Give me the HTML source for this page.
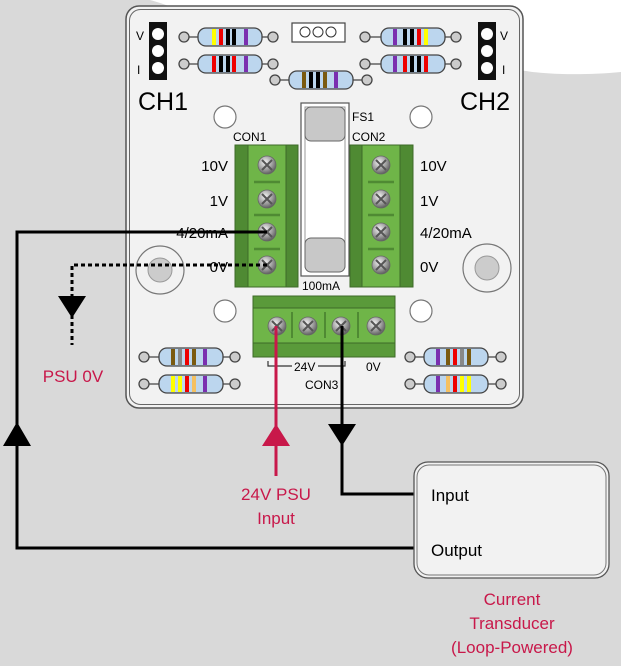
<!DOCTYPE html>
<html><head><meta charset="utf-8"><style>
html,body{margin:0;padding:0;background:#d9d9d9;}
svg{display:block;}
text{font-family:"Liberation Sans",sans-serif;}
</style></head><body>
<svg width="621" height="666" viewBox="0 0 621 666" xmlns="http://www.w3.org/2000/svg">
<defs>
<radialGradient id="sc" cx="0.4" cy="0.35" r="0.7">
<stop offset="0" stop-color="#f4f4f4"/><stop offset="0.6" stop-color="#9a9a9a"/><stop offset="1" stop-color="#555"/>
</radialGradient>
<g id="screw"><circle r="9" fill="url(#sc)" stroke="#666" stroke-width="0.8"/>
<path d="M-5,-5 L5,5 M5,-5 L-5,5" stroke="#555" stroke-width="2"/></g>
</defs>
<rect width="621" height="666" fill="#d9d9d9"/>
<path d="M150,0 L621,0 L621,72 C580,76 540,74 520,70 L200,20 C180,10 165,4 150,0 Z" fill="#ffffff"/>
<!-- board -->
<rect x="126" y="6" width="397" height="402" rx="13" fill="#f2f2f2" stroke="#555" stroke-width="1.5"/>
<rect x="129.5" y="9.5" width="390" height="395" rx="11" fill="none" stroke="#666" stroke-width="1"/>
<!-- headers -->
<rect x="149" y="22" width="18" height="58" fill="#111"/>
<circle cx="158" cy="34" r="6" fill="#fff"/><circle cx="158" cy="51" r="6" fill="#fff"/><circle cx="158" cy="68" r="6" fill="#fff"/>
<rect x="478" y="22" width="18" height="58" fill="#111"/>
<circle cx="487" cy="34" r="6" fill="#fff"/><circle cx="487" cy="51" r="6" fill="#fff"/><circle cx="487" cy="68" r="6" fill="#fff"/>
<text x="136" y="40" font-size="12" font-family="Liberation Serif,serif">V</text>
<text x="137" y="74" font-size="12" font-family="Liberation Serif,serif">I</text>
<text x="500" y="40" font-size="12" font-family="Liberation Serif,serif">V</text>
<text x="502" y="74" font-size="12" font-family="Liberation Serif,serif">I</text>
<text x="138" y="110" font-size="25">CH1</text>
<text x="460" y="110" font-size="25">CH2</text>
<!-- resistors -->
<g stroke="#444" stroke-width="1.3">
<g id="r1"><line x1="184" y1="37" x2="273" y2="37"/><circle cx="184" cy="37" r="5" fill="#ccc"/><circle cx="273" cy="37" r="5" fill="#ccc"/><rect x="198" y="28" width="64" height="18" rx="8" fill="#bcd6ee"/></g>
<line x1="184" y1="64" x2="273" y2="64"/><circle cx="184" cy="64" r="5" fill="#ccc"/><circle cx="273" cy="64" r="5" fill="#ccc"/><rect x="198" y="55" width="64" height="18" rx="8" fill="#bcd6ee"/>
<line x1="275" y1="80" x2="367" y2="80"/><circle cx="275" cy="80" r="5" fill="#ccc"/><circle cx="367" cy="80" r="5" fill="#ccc"/><rect x="289" y="71" width="64" height="18" rx="8" fill="#bcd6ee"/>
<line x1="365" y1="37" x2="456" y2="37"/><circle cx="365" cy="37" r="5" fill="#ccc"/><circle cx="456" cy="37" r="5" fill="#ccc"/><rect x="381" y="28" width="64" height="18" rx="8" fill="#bcd6ee"/>
<line x1="365" y1="64" x2="456" y2="64"/><circle cx="365" cy="64" r="5" fill="#ccc"/><circle cx="456" cy="64" r="5" fill="#ccc"/><rect x="381" y="55" width="64" height="18" rx="8" fill="#bcd6ee"/>
<line x1="144" y1="357" x2="235" y2="357"/><circle cx="144" cy="357" r="5" fill="#ccc"/><circle cx="235" cy="357" r="5" fill="#ccc"/><rect x="159" y="348" width="64" height="18" rx="8" fill="#bcd6ee"/>
<line x1="144" y1="384" x2="235" y2="384"/><circle cx="144" cy="384" r="5" fill="#ccc"/><circle cx="235" cy="384" r="5" fill="#ccc"/><rect x="159" y="375" width="64" height="18" rx="8" fill="#bcd6ee"/>
<line x1="410" y1="357" x2="501" y2="357"/><circle cx="410" cy="357" r="5" fill="#ccc"/><circle cx="501" cy="357" r="5" fill="#ccc"/><rect x="424" y="348" width="64" height="18" rx="8" fill="#bcd6ee"/>
<line x1="410" y1="384" x2="501" y2="384"/><circle cx="410" cy="384" r="5" fill="#ccc"/><circle cx="501" cy="384" r="5" fill="#ccc"/><rect x="424" y="375" width="64" height="18" rx="8" fill="#bcd6ee"/>
</g>
<!-- bands -->
<g>
<rect x="212" y="29" width="4" height="16" fill="#ff0"/><rect x="219" y="29" width="4" height="16" fill="#e00"/><rect x="226" y="29" width="4" height="16" fill="#000"/><rect x="232" y="29" width="4" height="16" fill="#000"/><rect x="244" y="29" width="4" height="16" fill="#7a2fb0"/>
<rect x="212" y="56" width="4" height="16" fill="#e00"/><rect x="219" y="56" width="4" height="16" fill="#000"/><rect x="226" y="56" width="4" height="16" fill="#000"/><rect x="232" y="56" width="4" height="16" fill="#e00"/><rect x="244" y="56" width="4" height="16" fill="#7a2fb0"/>
<rect x="302" y="72" width="4" height="16" fill="#7a5a10"/><rect x="309" y="72" width="4" height="16" fill="#000"/><rect x="316" y="72" width="4" height="16" fill="#000"/><rect x="323" y="72" width="4" height="16" fill="#7a5a10"/><rect x="334" y="72" width="4" height="16" fill="#7a2fb0"/>
<rect x="393" y="29" width="4" height="16" fill="#7a2fb0"/><rect x="403" y="29" width="4" height="16" fill="#000"/><rect x="410" y="29" width="4" height="16" fill="#000"/><rect x="417" y="29" width="4" height="16" fill="#e00"/><rect x="424" y="29" width="4" height="16" fill="#ff0"/>
<rect x="393" y="56" width="4" height="16" fill="#7a2fb0"/><rect x="403" y="56" width="4" height="16" fill="#e00"/><rect x="410" y="56" width="4" height="16" fill="#000"/><rect x="417" y="56" width="4" height="16" fill="#000"/><rect x="424" y="56" width="4" height="16" fill="#e00"/>
<rect x="171" y="349" width="4" height="16" fill="#7a5a10"/><rect x="178" y="349" width="4" height="16" fill="#888"/><rect x="185" y="349" width="4" height="16" fill="#e00"/><rect x="192" y="349" width="4" height="16" fill="#7a5a10"/><rect x="203" y="349" width="4" height="16" fill="#7a2fb0"/>
<rect x="171" y="376" width="4" height="16" fill="#ff0"/><rect x="178" y="376" width="4" height="16" fill="#ff0"/><rect x="185" y="376" width="4" height="16" fill="#e00"/><rect x="192" y="376" width="4" height="16" fill="#f5c060"/><rect x="203" y="376" width="4" height="16" fill="#7a2fb0"/>
<rect x="436" y="349" width="4" height="16" fill="#7a2fb0"/><rect x="446" y="349" width="4" height="16" fill="#7a5a10"/><rect x="453" y="349" width="4" height="16" fill="#e00"/><rect x="460" y="349" width="4" height="16" fill="#888"/><rect x="467" y="349" width="4" height="16" fill="#7a5a10"/>
<rect x="436" y="376" width="4" height="16" fill="#7a2fb0"/><rect x="446" y="376" width="4" height="16" fill="#f5c060"/><rect x="453" y="376" width="4" height="16" fill="#e00"/><rect x="460" y="376" width="4" height="16" fill="#ff0"/><rect x="467" y="376" width="4" height="16" fill="#ff0"/>
</g>
<!-- OOO connector -->
<rect x="292" y="23" width="53" height="19" fill="#fff" stroke="#444" stroke-width="1.2"/>
<circle cx="305" cy="32" r="5" fill="none" stroke="#333"/><circle cx="318" cy="32" r="5" fill="none" stroke="#333"/><circle cx="331" cy="32" r="5" fill="none" stroke="#333"/>
<!-- holes -->
<g fill="#fff" stroke="#777" stroke-width="1.2">
<circle cx="225" cy="117" r="11"/><circle cx="421" cy="117" r="11"/><circle cx="225" cy="311" r="11"/><circle cx="421" cy="311" r="11"/>
<circle cx="160" cy="270" r="24" fill="#f2f2f2"/><circle cx="487" cy="268" r="24" fill="#f2f2f2"/>
</g>
<circle cx="160" cy="270" r="12" fill="#ccc" stroke="#999"/><circle cx="487" cy="268" r="12" fill="#ccc" stroke="#999"/>
<!-- fuse -->
<rect x="301" y="103" width="48" height="173" fill="#fff" stroke="#555" stroke-width="1.2"/>
<rect x="305" y="107" width="40" height="160" fill="#fff" stroke="#999"/>
<rect x="305" y="107" width="40" height="34" rx="6" fill="#c8c8c8" stroke="#666"/>
<rect x="305" y="238" width="40" height="34" rx="6" fill="#c8c8c8" stroke="#666"/>
<text x="352" y="121" font-size="12">FS1</text>
<text x="302" y="290" font-size="12">100mA</text>
<text x="233" y="141" font-size="12">CON1</text>
<text x="352" y="141" font-size="12">CON2</text>
<!-- CON1 -->
<rect x="235" y="145" width="63" height="142" fill="#4f8a33" stroke="#3d6b28"/>
<rect x="248" y="145" width="38" height="142" fill="#6fb548" stroke="#3d6b28"/>
<rect x="350" y="145" width="63" height="142" fill="#4f8a33" stroke="#3d6b28"/>
<rect x="362" y="145" width="38" height="142" fill="#6fb548" stroke="#3d6b28"/>
<g fill="none" stroke="#4f8a33" stroke-width="2.5">
<line x1="254" y1="182" x2="280" y2="182"/><line x1="254" y1="215" x2="280" y2="215"/><line x1="254" y1="249" x2="280" y2="249"/>
<line x1="368" y1="182" x2="394" y2="182"/><line x1="368" y1="215" x2="394" y2="215"/><line x1="368" y1="249" x2="394" y2="249"/>
</g>
<use href="#screw" x="267" y="165"/><use href="#screw" x="267" y="199"/><use href="#screw" x="267" y="232"/><use href="#screw" x="267" y="265"/>
<use href="#screw" x="381" y="165"/><use href="#screw" x="381" y="199"/><use href="#screw" x="381" y="232"/><use href="#screw" x="381" y="265"/>
<g font-size="15">
<text x="228" y="171" text-anchor="end">10V</text><text x="228" y="206" text-anchor="end">1V</text><text x="228" y="238" text-anchor="end">4/20mA</text><text x="228" y="272" text-anchor="end">0V</text>
<text x="420" y="171">10V</text><text x="420" y="206">1V</text><text x="420" y="238">4/20mA</text><text x="420" y="272">0V</text>
</g>
<!-- CON3 -->
<rect x="253" y="296" width="142" height="61" fill="#5a9a3a" stroke="#3d6b28"/>
<rect x="253" y="308" width="142" height="35" fill="#6fb548" stroke="#3d6b28"/>
<g stroke="#4f8a33" stroke-width="2"><line x1="292" y1="312" x2="292" y2="338"/><line x1="325" y1="312" x2="325" y2="338"/><line x1="358" y1="312" x2="358" y2="338"/></g>
<use href="#screw" x="277" y="326"/><use href="#screw" x="308" y="326"/><use href="#screw" x="341" y="326"/><use href="#screw" x="376" y="326"/>
<path d="M268,361 V366 H292 M318,366 H345 V361" fill="none" stroke="#333" stroke-width="1.2"/>
<text x="294" y="371" font-size="12">24V</text>
<text x="366" y="371" font-size="12">0V</text>
<text x="305" y="389" font-size="12">CON3</text>
<!-- wires -->
<path d="M267,232 H17 V548 H415" fill="none" stroke="#000" stroke-width="3"/>
<polygon points="17,422 3,446 31,446" fill="#000"/>
<path d="M267,265 H72 V345" fill="none" stroke="#000" stroke-width="3" stroke-dasharray="4,3"/>
<polygon points="58,296 86,296 72,318" fill="#000"/>
<path d="M276,326 V476" fill="none" stroke="#c8184a" stroke-width="3"/>
<polygon points="276,424 262,446 290,446" fill="#c8184a"/>
<path d="M342,326 V494 H415" fill="none" stroke="#000" stroke-width="3"/>
<polygon points="328,424 356,424 342,446" fill="#000"/>
<!-- transducer -->
<rect x="414" y="462" width="195" height="116" rx="14" fill="#f2f2f2" stroke="#555" stroke-width="1.3"/>
<rect x="417" y="465" width="189" height="110" rx="12" fill="none" stroke="#777" stroke-width="1"/>
<text x="431" y="501" font-size="17">Input</text>
<text x="431" y="556" font-size="17">Output</text>
<g fill="#c8184a" font-size="17" text-anchor="middle">
<text x="73" y="382">PSU 0V</text>
<text x="276" y="500">24V PSU</text><text x="276" y="524">Input</text>
<text x="512" y="605">Current</text><text x="512" y="629">Transducer</text><text x="512" y="653">(Loop-Powered)</text>
</g>
</svg>
</body></html>
